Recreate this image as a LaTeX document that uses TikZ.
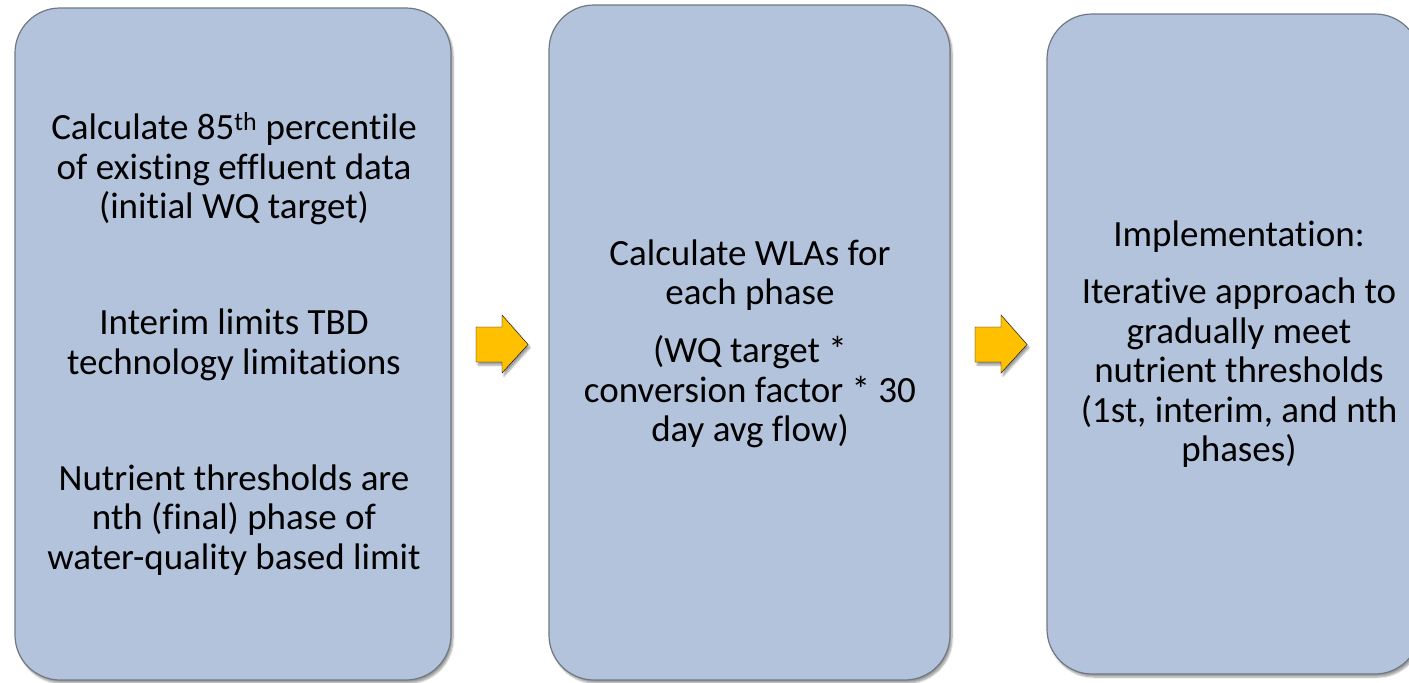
\documentclass[tikz,border=0pt]{standalone}
\usepackage{fontspec}
\setmainfont{Carlito}[Ligatures={NoCommon}]
\usetikzlibrary{shadows.blur}
\definecolor{boxfill}{RGB}{178,195,219}
\definecolor{boxline}{RGB}{112,120,132}
\definecolor{arrowfill}{RGB}{255,192,0}
\tikzset{
  stepbox/.style={draw=boxline, line width=1.2pt, fill=boxfill, rounded corners=45pt,
    inner sep=0pt, blur shadow={shadow xshift=2pt, shadow yshift=-3pt, shadow blur steps=6}},
  steptext/.style={align=center, font=\fontsize{37}{39.5}\selectfont},
  blockarrow/.style={fill=arrowfill, blur shadow={shadow xshift=2pt, shadow yshift=-3pt, shadow blur steps=5}}
}
\begin{document}
\begin{tikzpicture}[x=1pt, y=-1pt]
  \useasboundingbox (0,0) rectangle (1409,683);
  \clip (0,0) rectangle (1409,683);
  % boxes
  \node[stepbox, minimum width=436pt, minimum height=672pt] (box1) at (233,344) {};
  \node[stepbox, minimum width=401pt, minimum height=675pt] (box2) at (749.5,342.5) {};
  \node[stepbox, minimum width=373pt, minimum height=660pt] (box3) at (1233.5,344) {};
  % arrows
  \draw[blockarrow] (476,327) -- (502,327) -- (502,315) -- (528,344.5)
    -- (502,373) -- (502,362) -- (476,362) -- cycle;
  \draw[blockarrow] (975,327) -- (1001,327) -- (1001,315) -- (1027,344.5)
    -- (1001,373) -- (1001,362) -- (975,362) -- cycle;
  % texts
  \node[steptext] (t1a) at (234,169) {Calculate 85\textsuperscript{th} percentile\\of existing effluent data\\(initial WQ target)};
  \node[steptext] (t1b) at (234,345) {Interim limits TBD\\technology limitations};
  \node[steptext] (t1c) at (234,520) {Nutrient thresholds are\\nth (final) phase of\\water-quality based limit};
  \node[steptext] (t2a) at (750,275) {Calculate WLAs for\\each phase};
  \node[steptext] (t2b) at (750,392) {(WQ target *\\conversion factor * 30\\day avg flow)};
  \node[steptext] (t3a) at (1239,237) {Implementation:};
  \node[steptext] (t3b) at (1239,373) {Iterative approach to\\gradually meet\\nutrient thresholds\\(1st, interim, and nth\\phases)};
\end{tikzpicture}
\end{document}
